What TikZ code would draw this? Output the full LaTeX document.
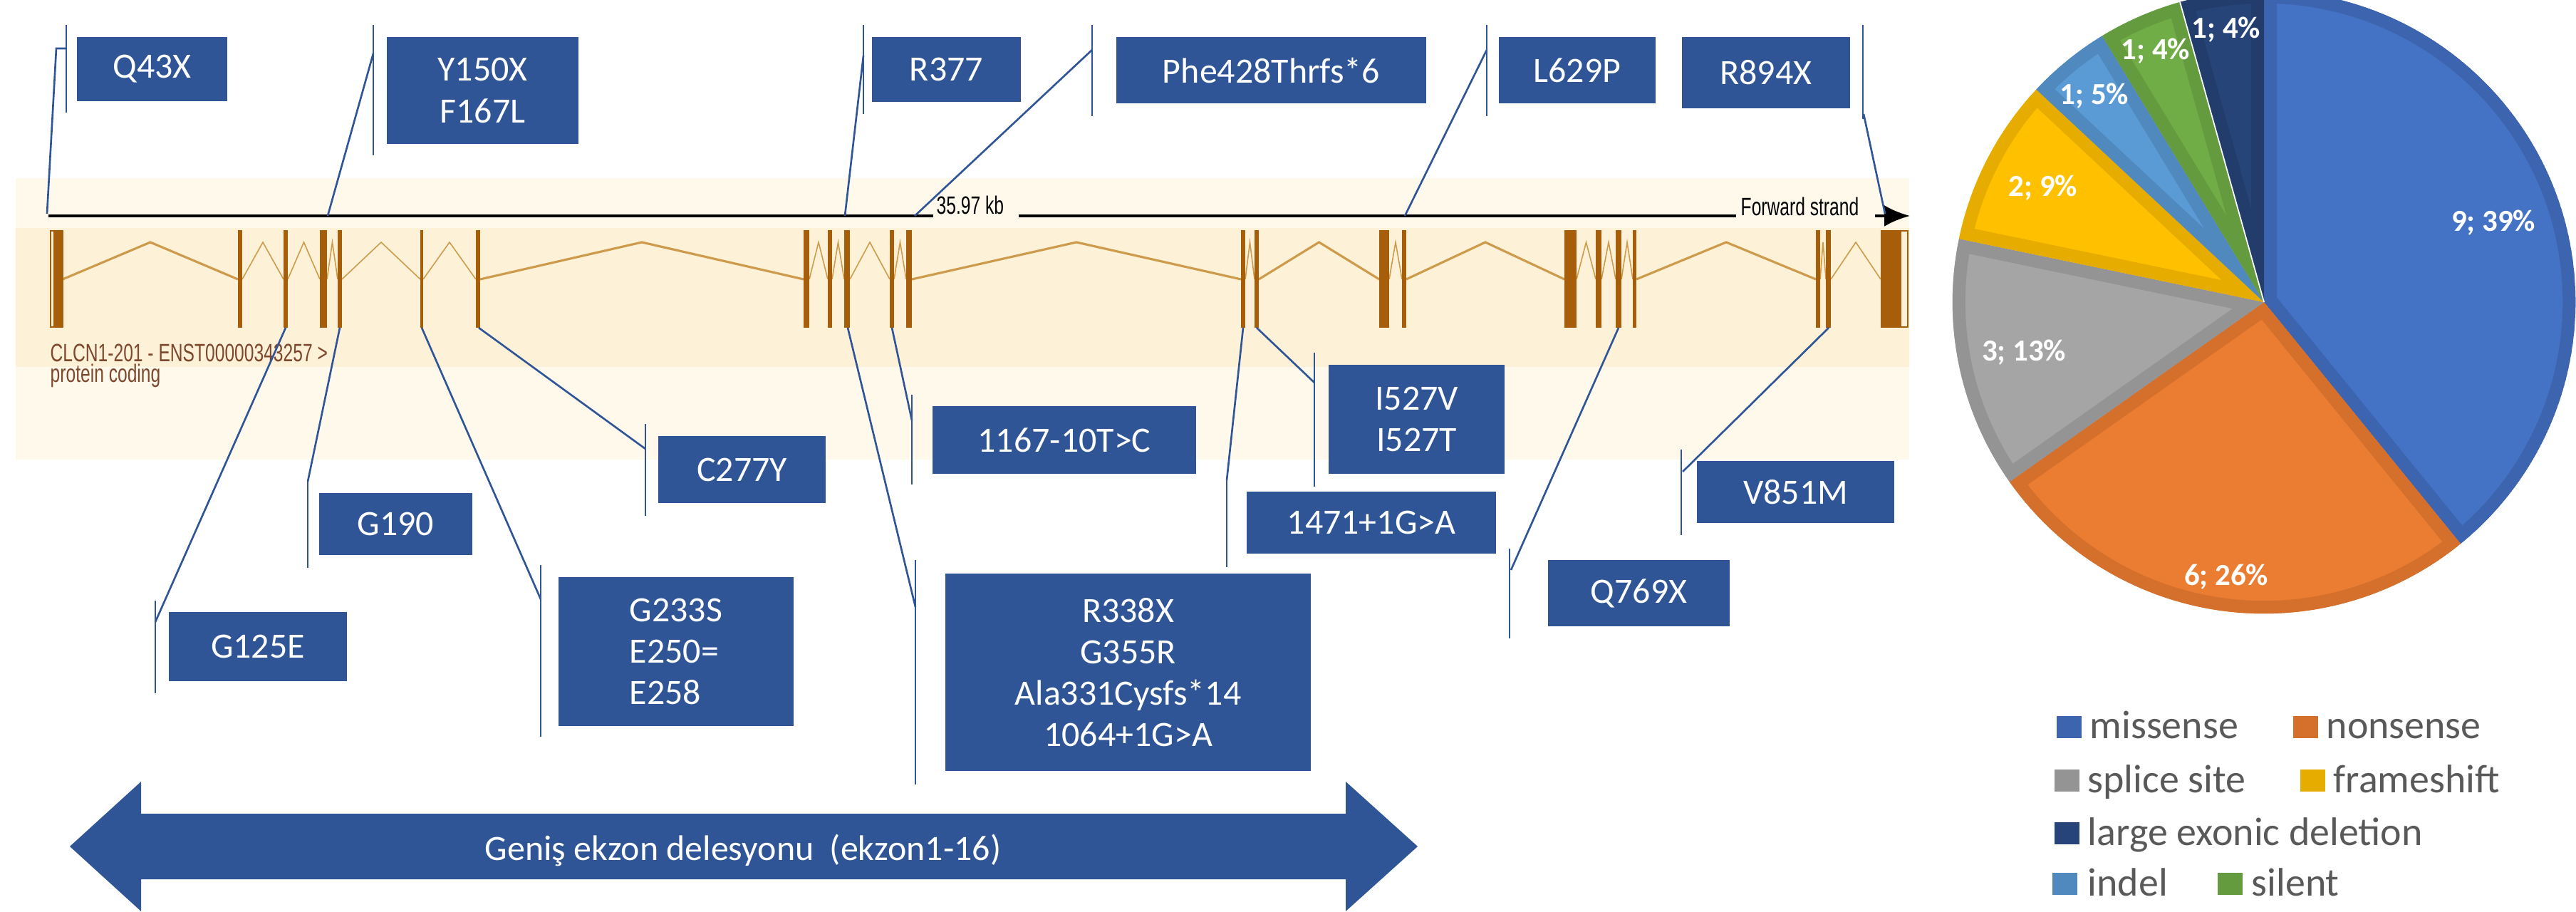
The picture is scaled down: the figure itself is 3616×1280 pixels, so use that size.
\documentclass[tikz,border=0pt]{standalone}
\usepackage{fontspec}
\setmainfont{Carlito}
\newfontfamily\ensfont[FakeStretch=0.7]{Liberation Sans}
\usetikzlibrary{arrows.meta}
\definecolor{boxblue}{RGB}{47,85,151}
\definecolor{exon}{RGB}{166,94,10}
\definecolor{intron}{RGB}{205,155,75}
\definecolor{paleband}{RGB}{255,249,236}
\definecolor{band}{RGB}{253,241,215}
\definecolor{enstext}{RGB}{125,72,45}
\definecolor{legtext}{RGB}{89,89,89}
\definecolor{fmiss}{RGB}{68,114,196}\definecolor{dmiss}{RGB}{61,101,175}
\definecolor{fnon}{RGB}{234,125,50}\definecolor{dnon}{RGB}{213,111,44}
\definecolor{fspl}{RGB}{165,165,165}\definecolor{dspl}{RGB}{148,148,148}
\definecolor{ffra}{RGB}{255,192,0}\definecolor{dfra}{RGB}{230,172,0}
\definecolor{find}{RGB}{91,155,213}\definecolor{dind}{RGB}{80,137,190}
\definecolor{fsil}{RGB}{112,173,71}\definecolor{dsil}{RGB}{101,155,63}
\definecolor{flar}{RGB}{38,68,120}\definecolor{dlar}{RGB}{34,61,107}
\newcommand\vbfont{\fontsize{14.2}{16.5}\selectfont}
\newcommand\pielab{\bfseries\fontsize{12.2}{14}\selectfont}
\newcommand\legfont{\fontsize{15.9}{18}\selectfont}
\newcommand\ensfnt{\ensfont\fontsize{10}{12}\selectfont}
\begin{document}
\begin{tikzpicture}[x=0.01cm,y=-0.01cm,
  vbox/.style={fill=boxblue, text=white, inner sep=0pt, font=\vbfont, align=center},
  lead/.style={draw=boxblue, line width=0.75pt},
  intr/.style={draw=intron, line width=0.45pt},
  intrl/.style={draw=intron, line width=0.9pt},
  legsq/.style={inner sep=0pt, minimum width=0.35cm, minimum height=0.31cm, anchor=south west},
  legtx/.style={inner sep=0pt, anchor=base west, font=\legfont, text=legtext},
  pl/.style={text=white, font=\pielab, inner sep=0pt}]
\useasboundingbox (0,0) rectangle (3616,1280);
\clip (0,0) rectangle (3616,1280);
\fill[white] (0,0) rectangle (3616,1280);
% background bands
\fill[paleband] (22,250) rectangle (2680,645);
\fill[band] (22,320) rectangle (2680,515);
% axis
\coordinate (ax0) at (68,303); \coordinate (ax1) at (1310,303);
\coordinate (ax2) at (1430,303); \coordinate (ax3) at (2437,303);
\coordinate (ax4) at (2632,303); \coordinate (ax5) at (2681,303);
\draw[line width=1.1pt] (ax0) -- (ax1) (ax2) -- (ax3);
\draw[line width=1.1pt, -{Latex[length=0.36cm,width=0.30cm]}] (ax4) -- (ax5);
\node[inner sep=0pt, anchor=base west, font=\ensfnt] (kb) at (1314,301) {35.97 kb};
\node[inner sep=0pt, anchor=base west, font=\ensfnt] (fs) at (2443,303) {Forward strand};
% introns
\foreach \p/\q in {340/398,404/449,459/474,480/590,594/668,1136/1162,1168/1185,1193/1249,1255/1272,1748/1761,1950/1968,2213/2240,2248/2268,2276/2292,2555/2563,2570/2640}
  \draw[intr] (\p,392) -- ({(\p+\q)/2},340) -- (\q,392);
\foreach \p/\q in {88/334,674/1128,1280/1742,1767/1936,1974/2196,2297/2549}
  \draw[intrl] (\p,392) -- ({(\p+\q)/2},340) -- (\q,392);
% exons
\draw[exon, line width=0.8pt] (71,324) rectangle (88,459);
\fill[exon] (75,323) rectangle (88,460);
\foreach \l/\r in {334/340,398/404,449/459,474/480,590/594,668/674,1128/1136,1162/1168,1185/1193,1249/1255,1272/1280,1742/1748,1761/1767,1936/1950,1968/1974,2196/2213,2240/2248,2268/2276,2292/2297,2549/2555,2563/2570}
  \fill[exon] (\l,323) rectangle (\r,460);
\draw[exon, line width=0.8pt] (2641,324) rectangle (2678,459);
\fill[exon] (2640,323) rectangle (2669,460);
% transcript label
\node[inner sep=0pt, anchor=base west, font=\ensfnt, text=enstext] (tr1) at (70,508) {CLCN1-201 - ENST00000343257 >};
\node[inner sep=0pt, anchor=base west, font=\ensfnt, text=enstext] (tr2) at (70,537) {protein coding};
% ---- top callouts ----
\coordinate (q43b1) at (93,35); \coordinate (q43b2) at (93,158);
\coordinate (q43a) at (93,68); \coordinate (q43e) at (79,68); \coordinate (q43t) at (66,300);
\draw[lead] (q43b1) -- (q43b2); \draw[lead] (q43a) -- (q43e) -- (q43t);
\node[vbox, minimum width=2.11cm, minimum height=0.90cm] (q43x) at (213.5,97) {Q43X};

\coordinate (y150b1) at (524,35); \coordinate (y150b2) at (524,218);
\coordinate (y150a) at (524,75); \coordinate (y150t) at (460,303);
\draw[lead] (y150b1) -- (y150b2); \draw[lead] (y150a) -- (y150t);
\node[vbox, minimum width=2.69cm, minimum height=1.50cm] (y150x) at (677.5,127) {Y150X\\F167L};

\coordinate (r377b1) at (1212,35); \coordinate (r377b2) at (1212,160);
\coordinate (r377a) at (1212,78); \coordinate (r377t) at (1186,303);
\draw[lead] (r377b1) -- (r377b2); \draw[lead] (r377a) -- (r377t);
\node[vbox, minimum width=2.09cm, minimum height=0.91cm] (r377) at (1328.5,97.5) {R377};

\coordinate (pheb1) at (1533,35); \coordinate (pheb2) at (1533,163);
\coordinate (phea) at (1533,70); \coordinate (phet) at (1284,303);
\draw[lead] (pheb1) -- (pheb2); \draw[lead] (phea) -- (phet);
\node[vbox, minimum width=4.35cm, minimum height=0.93cm] (phe) at (1784.5,98.5) {Phe428Thrfs*6};

\coordinate (l629b1) at (2087,35); \coordinate (l629b2) at (2087,163);
\coordinate (l629a) at (2087,70); \coordinate (l629t) at (1972,303);
\draw[lead] (l629b1) -- (l629b2); \draw[lead] (l629a) -- (l629t);
\node[vbox, minimum width=2.20cm, minimum height=0.93cm] (l629p) at (2214,98.5) {L629P};

\coordinate (r894b1) at (2615,35); \coordinate (r894b2) at (2615,167);
\coordinate (r894a) at (2616,160); \coordinate (r894t) at (2646,300);
\draw[lead] (r894b1) -- (r894b2); \draw[lead] (r894a) -- (r894t);
\node[vbox, minimum width=2.36cm, minimum height=1.00cm] (r894x) at (2479,102) {R894X};
% ---- bottom callouts ----
\coordinate (g125b1) at (218,843); \coordinate (g125b2) at (218,973);
\coordinate (g125a) at (218,873); \coordinate (g125t) at (401,460);
\draw[lead] (g125b1) -- (g125b2); \draw[lead] (g125t) -- (g125a);
\node[vbox, minimum width=2.50cm, minimum height=0.97cm] (g125e) at (362,907.5) {G125E};

\coordinate (g190b1) at (432,674); \coordinate (g190b2) at (432,797);
\coordinate (g190a) at (432,676); \coordinate (g190t) at (477,460);
\draw[lead] (g190b1) -- (g190b2); \draw[lead] (g190t) -- (g190a);
\node[vbox, minimum width=2.15cm, minimum height=0.87cm] (g190) at (555.5,735.5) {G190};

\coordinate (g233b1) at (759,793); \coordinate (g233b2) at (759,1034);
\coordinate (g233a) at (759,841); \coordinate (g233t) at (592,460);
\draw[lead] (g233b1) -- (g233b2); \draw[lead] (g233t) -- (g233a);
\node[vbox, align=left, minimum width=3.30cm, minimum height=2.09cm] (g233s) at (949,914.5) {G233S\\E250=\\E258};

\coordinate (c277b1) at (906,595); \coordinate (c277b2) at (906,724);
\coordinate (c277a) at (906,630); \coordinate (c277t) at (672,460);
\draw[lead] (c277b1) -- (c277b2); \draw[lead] (c277t) -- (c277a);
\node[vbox, minimum width=2.35cm, minimum height=0.94cm] (c277y) at (1041.5,659) {C277Y};

\coordinate (t1167b1) at (1280,554); \coordinate (t1167b2) at (1280,680);
\coordinate (t1167a) at (1280,590); \coordinate (t1167t) at (1252,460);
\draw[lead] (t1167b1) -- (t1167b2); \draw[lead] (t1167t) -- (t1167a);
\node[vbox, minimum width=3.70cm, minimum height=0.95cm] (t1167) at (1494,617.5) {1167-10T>C};

\coordinate (r338b1) at (1285,786); \coordinate (r338b2) at (1285,1101);
\coordinate (r338a) at (1285,852); \coordinate (r338t) at (1190,460);
\draw[lead] (r338b1) -- (r338b2); \draw[lead] (r338t) -- (r338a);
\node[vbox, minimum width=5.13cm, minimum height=2.77cm] (r338x) at (1583.5,943.5) {R338X\\G355R\\Ala331Cysfs*14\\1064+1G>A};

\coordinate (g1471b1) at (1722,674); \coordinate (g1471b2) at (1722,796);
\coordinate (g1471a) at (1722,674); \coordinate (g1471t) at (1745,460);
\draw[lead] (g1471b1) -- (g1471b2); \draw[lead] (g1471t) -- (g1471a);
\node[vbox, minimum width=3.50cm, minimum height=0.87cm] (g1471) at (1925,733.5) {1471+1G>A};

\coordinate (i527b1) at (1845,495); \coordinate (i527b2) at (1845,683);
\coordinate (i527a) at (1845,537); \coordinate (i527t) at (1764,460);
\draw[lead] (i527b1) -- (i527b2); \draw[lead] (i527t) -- (i527a);
\node[vbox, minimum width=2.47cm, minimum height=1.53cm] (i527) at (1988.5,588.5) {I527V\\I527T};

\coordinate (q769b1) at (2119,770); \coordinate (q769b2) at (2119,896);
\coordinate (q769a) at (2121,800); \coordinate (q769t) at (2272,460);
\draw[lead] (q769b1) -- (q769b2); \draw[lead] (q769t) -- (q769a);
\node[vbox, minimum width=2.55cm, minimum height=0.93cm] (q769x) at (2300.5,832.5) {Q769X};

\coordinate (v851b1) at (2360,631); \coordinate (v851b2) at (2360,751);
\coordinate (v851a) at (2362,662); \coordinate (v851t) at (2567,460);
\draw[lead] (v851b1) -- (v851b2); \draw[lead] (v851t) -- (v851a);
\node[vbox, minimum width=2.77cm, minimum height=0.87cm] (v851m) at (2520.5,690.5) {V851M};
% ---- deletion arrow ----
\fill[boxblue] (98,1188) -- (198,1097) -- (198,1142) -- (1889,1142) -- (1889,1097) -- (1990,1188)
  -- (1889,1279) -- (1889,1234) -- (198,1234) -- (198,1279) -- cycle;
\node[inner sep=0pt, anchor=base, text=white, font=\vbfont] (del) at (1043,1207) {Geniş ekzon delesyonu\ \ (ekzon1-16)};
% ---- pie ----
\begin{scope}[shift={(3178,424)}]
\foreach \a/\b/\f/\d in {90/-50.87/fmiss/dmiss, -50.87/-144.78/fnon/dnon, -144.78/-191.74/fspl/dspl,
   -191.74/-223.04/ffra/dfra, -223.04/-238.70/find/dind, -238.70/-254.35/fsil/dsil, -254.35/-270/flar/dlar}{
  \begin{scope}
    \clip (0,0) -- (\a:4.37cm) arc[start angle=\a, end angle=\b, radius=4.37cm] -- cycle;
    \filldraw[fill=\f, draw=\d, line width=0.36cm, line join=miter]
      (0,0) -- (\a:4.37cm) arc[start angle=\a, end angle=\b, radius=4.37cm] -- cycle;
  \end{scope}}
\draw[white, line width=0.5pt] (0,0) -- (105.65:4.37cm);
\end{scope}
\node[pl] (p1) at (3500,313) {9; 39\%};
\node[pl] (p2) at (3125,810) {6; 26\%};
\node[pl] (p3) at (2841,495) {3; 13\%};
\node[pl] (p4) at (2868,264) {2; 9\%};
\node[pl] (p5) at (2940,135) {1; 5\%};
\node[pl] (p6) at (3026,72) {1; 4\%};
\node[pl] (p7) at (3125,42) {1; 4\%};
% ---- legend ----
\node[legsq, fill=dmiss] (s1) at (2886,1037) {};
\node[legtx] (t1) at (2933,1037) {missense};
\node[legsq, fill=dnon] (s2) at (3218,1037) {};
\node[legtx] (t2) at (3265,1037) {nonsense};
\node[legsq, fill=dspl] (s3) at (2883,1112) {};
\node[legtx] (t3) at (2930,1112) {splice site};
\node[legsq, fill=dfra] (s4) at (3228,1112) {};
\node[legtx] (t4) at (3275,1112) {frameshift};
\node[legsq, fill=flar] (s5) at (2883,1186) {};
\node[legtx] (t5) at (2930,1186) {large exonic deletion};
\node[legsq, fill=dind] (s6) at (2880,1257) {};
\node[legtx] (t6) at (2930,1257) {indel};
\node[legsq, fill=dsil] (s7) at (3112,1257) {};
\node[legtx] (t7) at (3160,1257) {silent};
\end{tikzpicture}
\end{document}
